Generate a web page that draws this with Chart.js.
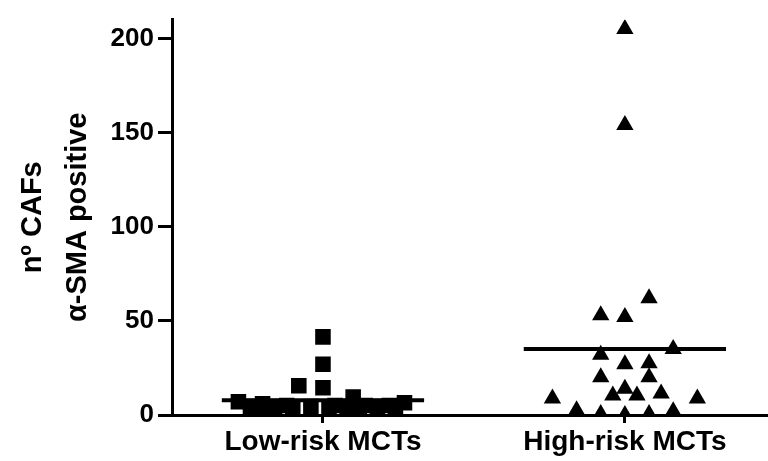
<!DOCTYPE html>
<html>
<head>
<meta charset="utf-8">
<script src="https://cdn.jsdelivr.net/npm/chart.js@4.4.0/dist/chart.umd.min.js"></script>
<style>
  html, body { margin: 0; padding: 0; background: #fff; }
</style>
</head>
<body>
<canvas id="cafChart" width="768" height="461"></canvas>
<script>
// groups on the x axis (placed at x = 1 and x = 2)
const groups = ['Low-risk MCTs', 'High-risk MCTs'];

// n° of alpha-SMA positive CAFs
const lowRiskValues = [41.5, 27, 15.5, 14.5, 9.5, 7, 6, 6.5, 4.5, 4.5, 5, 4.5, 5, 4.5, 5, 4.5, 5, 3.5, 3.5, 3.5, 3.5, 4.5];
// horizontal scatter of each point around its group (x units)
const lowRiskSpread = [0, 0, -0.08, 0, 0.10, -0.28, -0.20, 0.27, -0.24, -0.16, -0.12, -0.04, 0.04, 0.08, 0.14, 0.18, 0.22, -0.20, -0.10, 0.02, 0.12, 0.24];

const highRiskValues = [205, 154, 62, 53, 52, 32, 35, 27, 27.5, 20, 20, 14, 10.4, 10.4, 11.4, 8.8, 8.8, 2.5, 0.5, 0, 0.5, 2];
const highRiskSpread = [0, 0, 0.08, -0.08, 0, -0.08, 0.16, 0, 0.08, 0.08, -0.08, 0, -0.04, 0.04, 0.12, -0.24, 0.24, -0.16, -0.08, 0, 0.08, 0.16];

// group mean lines
const groupMeans = [7.8, 35];

const yTicks = [0, 50, 100, 150, 200];

const black = '#000';
const meanHalfWidth = 0.335;

function toPoints(values, spread, groupPos) {
  return values.map((v, i) => ({ x: groupPos + spread[i], y: v }));
}

function meanLine(groupPos, mean) {
  return [
    { x: groupPos - meanHalfWidth, y: mean },
    { x: groupPos + meanHalfWidth, y: mean }
  ];
}

Chart.defaults.font.family = '"Liberation Sans", Arial, sans-serif';
Chart.defaults.color = black;

const ctx = document.getElementById('cafChart').getContext('2d');
new Chart(ctx, {
  type: 'scatter',
  data: {
    datasets: [
      {
        label: groups[0],
        data: toPoints(lowRiskValues, lowRiskSpread, 1),
        pointStyle: 'rect',
        pointRadius: 11,
        backgroundColor: black,
        borderColor: black,
        borderWidth: 0
      },
      {
        label: groups[1],
        data: toPoints(highRiskValues, highRiskSpread, 2),
        pointStyle: 'triangle',
        pointRadius: 10,
        backgroundColor: black,
        borderColor: black,
        borderWidth: 0
      },
      {
        type: 'line',
        data: meanLine(1, groupMeans[0]),
        borderColor: black,
        borderWidth: 4,
        pointRadius: 0,
        clip: false
      },
      {
        type: 'line',
        data: meanLine(2, groupMeans[1]),
        borderColor: black,
        borderWidth: 4,
        pointRadius: 0,
        clip: false
      }
    ]
  },
  options: {
    responsive: false,
    animation: false,
    devicePixelRatio: 1,
    layout: { autoPadding: false, padding: { top: 10, left: 0, right: 0, bottom: 0 } },
    plugins: {
      legend: { display: false },
      tooltip: { enabled: false }
    },
    scales: {
      x: {
        type: 'linear',
        min: 0.5,
        max: 2.474,
        afterBuildTicks: s => { s.ticks = [{ value: 1 }, { value: 2 }]; },
        afterFit: s => { s.height = 46; },
        border: { color: black, width: 3 },
        grid: { drawOnChartArea: false, color: black, tickLength: 8, tickWidth: 3 },
        ticks: {
          autoSkip: false,
          maxRotation: 0,
          padding: 2,
          color: black,
          font: { size: 28, weight: 'bold' },
          callback: v => groups[v - 1] || ''
        }
      },
      y: {
        min: 0,
        max: 210,
        afterBuildTicks: s => { s.ticks = yTicks.map(v => ({ value: v })); },
        afterFit: s => { s.width = 172; },
        border: { color: black, width: 3 },
        grid: { drawOnChartArea: false, color: black, tickLength: 14, tickWidth: 3 },
        ticks: {
          padding: 4,
          color: black,
          font: { size: 26, weight: 'bold' }
        },
        title: {
          display: true,
          text: ['nº CAFs', 'α-SMA positive'],
          color: black,
          font: { size: 29, weight: 'bold', lineHeight: 1.55 },
          padding: { top: 11, bottom: 0 }
        }
      }
    }
  }
});
</script>
</body>
</html>
